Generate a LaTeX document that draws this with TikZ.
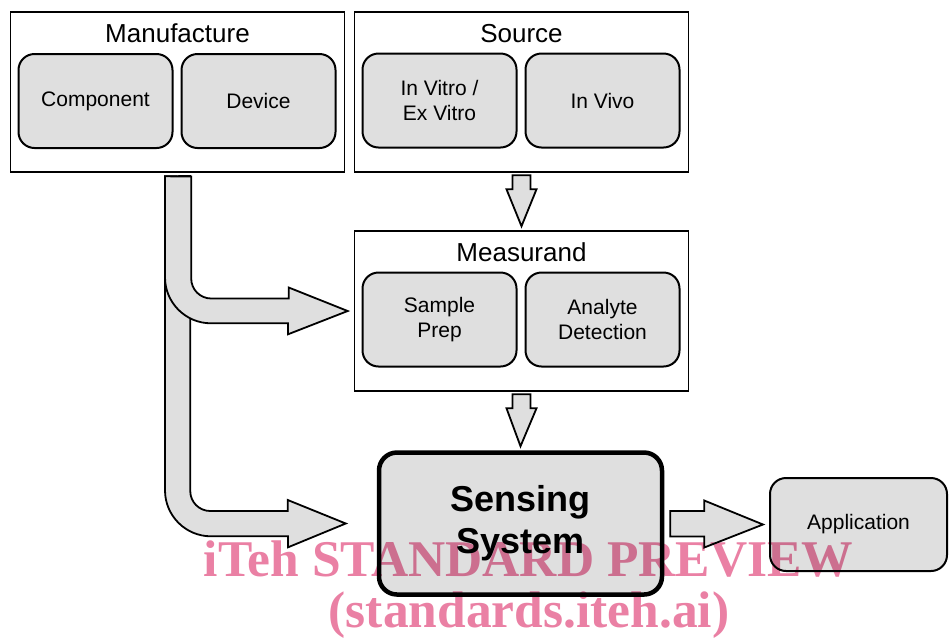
\documentclass[tikz,border=0pt]{standalone}
\usepackage{fontspec}
\setmainfont{Liberation Sans}
\newfontfamily\wmfont{Liberation Serif}
\usetikzlibrary{positioning,calc}

\definecolor{boxgray}{RGB}{223,223,223}
\definecolor{wmpink}{RGB}{234,128,164}

\begin{document}
\begin{tikzpicture}[x=1pt,y=-1pt,node distance=7pt,
  group/.style={draw,line width=1.6pt,minimum width=334pt,minimum height=160pt,inner sep=0pt},
  title/.style={anchor=base,font=\fontsize{26}{30}\selectfont},
  item/.style={draw,line width=2pt,fill=boxgray,rounded corners=16pt,minimum width=154pt,
    minimum height=94pt,align=center,font=\fontsize{21}{25}\selectfont},
  blockarrow/.style={draw,line width=1.8pt,fill=boxgray},
  wm/.style={anchor=base,text=wmpink,font=\wmfont\bfseries\fontsize{51.5}{52}\selectfont}]

\useasboundingbox (0,0) rectangle (949,641);

\node[group] (man) at (177.5,92) {};
\node[group] (src) at (521.5,92) {};
\node[group] (meas) at (521.5,311) {};

\node[title] (man_t) at (177.5,42.5) {Manufacture};
\node[title] (src_t) at (521.5,42.5) {Source};
\node[title] (meas_t) at (521.5,261) {Measurand};

\node[item] (man_1) at (95.5,101) {Component};
\node[item] (man_2) [right=of man_1] {Device};
\node[item] (src_1) at (439.5,100.5) {In Vitro /\\Ex Vitro};
\node[item] (src_2) [right=of src_1] {In Vivo};
\node[item] (meas_1) at (439.5,319.5) {Sample\\Prep};
\node[item] (meas_2) [right=of meas_1] {Analyte\\Detection};

\node[item,line width=4.5pt,rounded corners=18pt,minimum width=283pt,minimum height=142pt,
  font=\bfseries\fontsize{36}{42}\selectfont] (sens) at (520.5,523.5) {Sensing\\System};
\node[item,minimum width=177pt,minimum height=93pt] (app) at (858.5,524.5) {Application};

% source -> measurand -> sensing system
\draw[blockarrow] ($(src.south)+(-9,2.5)$) -- ++(0,14) -- ++(-6,0)
  -- ($(meas.north)+(0,-4)$) -- ($(src.south)+(15,16.5)$) -- ++(-6,0) -- ++(0,-14) -- cycle;
\draw[blockarrow] ($(meas.south)+(-9,2.5)$) -- ++(0,14) -- ++(-6,0)
  -- ($(sens.north)+(0,-4)$) -- ($(meas.south)+(15,16.5)$) -- ++(-6,0) -- ++(0,-14) -- cycle;

% manufacture -> sensing system (long bend), then -> measurand on top
\draw[blockarrow] ($(man.south)+(-12.5,3.5)$) -- ++(0,314) arc[start angle=180,end angle=90,radius=46]
  -- ++(77,0) -- ++(0,11) -- ($(sens.west)+(-31,0)$) -- ++(-58,-23.5) -- ++(0,11)
  -- ++(-77.5,0) arc[start angle=90,end angle=180,radius=20] -- ++(0,-315) -- cycle;
\draw[blockarrow] ($(man.south)+(-12.5,3.5)$) -- ++(0,101) arc[start angle=180,end angle=90,radius=46]
  -- ++(77,0) -- ++(0,11) -- ($(meas.west)+(-6,0)$) -- ++(-59,-23.5) -- ++(0,11)
  -- ++(-77.5,0) arc[start angle=90,end angle=180,radius=20] -- ++(0,-102) -- cycle;

% sensing system -> application
\draw[blockarrow] ($(sens.east)+(6,-12.5)$) -- ++(34,0) -- ++(0,-10.5)
  -- ($(app.west)+(-6,0)$) -- ($(sens.east)+(40,24)$) -- ++(0,-11) -- ++(-34,0) -- cycle;

\begin{scope}[blend mode=multiply]
\node[wm] (wm_1) at (528.5,576) {iTeh STANDARD PREVIEW};
\node[wm] (wm_2) at (529,627) {(standards.iteh.ai)};
\end{scope}

\end{tikzpicture}
\end{document}
